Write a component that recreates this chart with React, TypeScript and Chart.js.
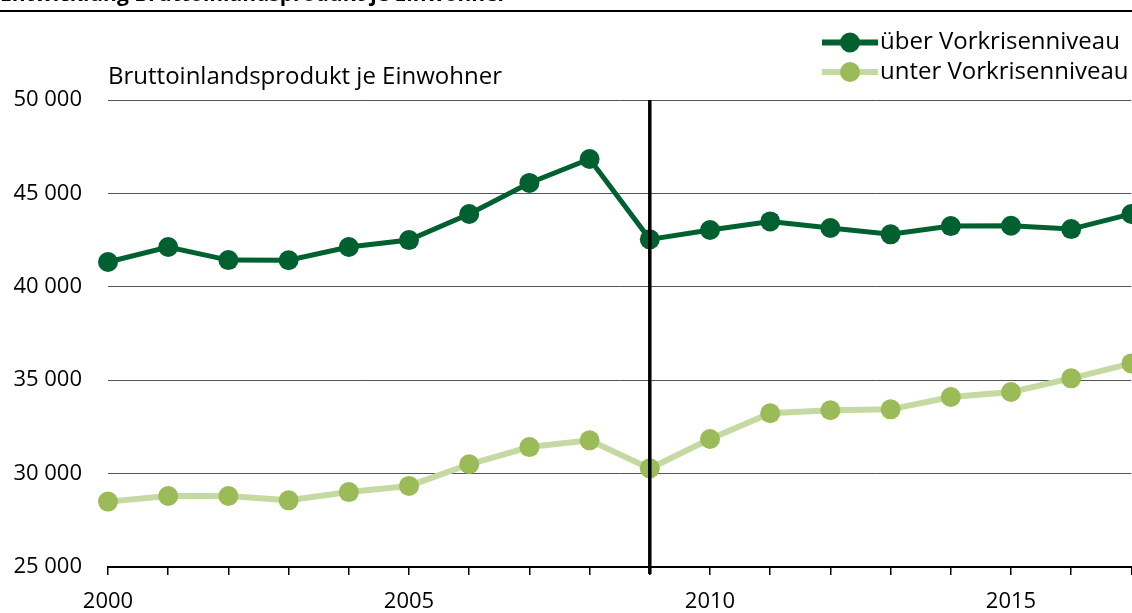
import React, { useEffect, useRef } from "react";
import { Chart, registerables } from "chart.js";

Chart.register(...registerables);

const years = [2000, 2001, 2002, 2003, 2004, 2005, 2006, 2007, 2008, 2009, 2010, 2011, 2012, 2013, 2014, 2015, 2016, 2017];
const ueberValues = [41330, 42130, 41430, 41420, 42130, 42500, 43900, 45560, 46840, 42540, 43040, 43500, 43150, 42810, 43250, 43270, 43090, 43900];
const unterValues = [28500, 28800, 28800, 28570, 29010, 29340, 30500, 31420, 31780, 30280, 31850, 33230, 33390, 33440, 34100, 34370, 35100, 35900];
const yTickValues = [25000, 30000, 35000, 40000, 45000, 50000];
const xLabelYears = [2000, 2005, 2010, 2015];
const seriesLabels = ["über Vorkrisenniveau", "unter Vorkrisenniveau"];
const axisTitle = "Bruttoinlandsprodukt je Einwohner";
const chartTitle = "Entwicklung Bruttoinlandsprodukt je Einwohner";
const crisisYear = 2009;

const DARK = "#00602F";
const LIGHT_LINE = "#C5DAA2";
const LIGHT_POINT = "#9BBB59";
const FONT = "'Open Sans'";

const fmt = (v: number) => String(v).replace(/\B(?=(\d{3})+(?!\d))/g, " ");

export default function App() {
  const ref = useRef<HTMLCanvasElement | null>(null);

  useEffect(() => {
    const canvas = ref.current;
    if (!canvas) return;

    const overlay = {
      id: "overlay",
      afterDatasetsDraw(chart: any) {
        const ctx = chart.ctx;
        const x = chart.scales.x.getPixelForValue(years.indexOf(crisisYear));
        const area = chart.chartArea;
        ctx.save();
        ctx.strokeStyle = "#000";
        ctx.lineWidth = 3.5;
        ctx.beginPath();
        ctx.moveTo(x, area.top);
        ctx.lineTo(x, area.bottom + 7);
        ctx.stroke();
        ctx.restore();
      },
      afterDraw(chart: any) {
        const ctx = chart.ctx;
        ctx.save();
        ctx.fillStyle = "#000";
        ctx.font = `bold 21px ${FONT}`;
        ctx.textBaseline = "alphabetic";
        ctx.textAlign = "left";
        ctx.fillText(chartTitle, 0, 1);
        ctx.strokeStyle = "#000";
        ctx.lineWidth = 2;
        ctx.beginPath();
        ctx.moveTo(0, 11);
        ctx.lineTo(chart.width, 11);
        ctx.stroke();

        ctx.font = `24px ${FONT}`;
        ctx.fillText(axisTitle, chart.chartArea.left, 84);

        const rows = [
          { label: seriesLabels[0], line: DARK, point: DARK, y: 42.5 },
          { label: seriesLabels[1], line: LIGHT_LINE, point: LIGHT_POINT, y: 72 },
        ];
        rows.forEach((r) => {
          ctx.strokeStyle = r.line;
          ctx.lineWidth = 6;
          ctx.beginPath();
          ctx.moveTo(822, r.y);
          ctx.lineTo(878, r.y);
          ctx.stroke();
          ctx.fillStyle = r.point;
          ctx.beginPath();
          ctx.arc(850, r.y, 10, 0, Math.PI * 2);
          ctx.fill();
          ctx.fillStyle = "#000";
          ctx.textBaseline = "middle";
          ctx.fillText(r.label, 880, r.y);
        });
        ctx.restore();
      },
    };

    const chart = new Chart(canvas, {
      type: "line",
      data: {
        labels: years.map(String),
        datasets: [
          {
            label: seriesLabels[0],
            data: ueberValues,
            borderColor: DARK,
            backgroundColor: DARK,
            pointBackgroundColor: DARK,
            pointBorderWidth: 0,
            borderWidth: 5,
            pointRadius: 10,
            tension: 0,
            clip: false,
          },
          {
            label: seriesLabels[1],
            data: unterValues,
            borderColor: LIGHT_LINE,
            backgroundColor: LIGHT_POINT,
            pointBackgroundColor: LIGHT_POINT,
            pointBorderWidth: 0,
            borderWidth: 6,
            pointRadius: 10,
            tension: 0,
            clip: false,
          },
        ],
      },
      options: {
        responsive: false,
        animation: false,
        layout: { autoPadding: false, padding: { top: 100, left: 0, right: 0.6, bottom: 0 } },
        plugins: { legend: { display: false }, tooltip: { enabled: false }, title: { display: false } },
        scales: {
          x: {
            type: "category",
            offset: false,
            afterFit: (s: any) => {
              s.height = 46;
              s.paddingLeft = 0;
              s.paddingRight = 0;
            },
            grid: {
              display: true,
              drawOnChartArea: false,
              drawTicks: true,
              tickLength: 8,
              color: "#000",
              lineWidth: 1.5,
            },
            border: { display: true, color: "#000", width: 2 },
            ticks: {
              autoSkip: false,
              maxRotation: 0,
              padding: 14,
              color: "#000",
              font: { family: FONT, size: 22 },
              callback: (_v: any, i: number) => (xLabelYears.includes(years[i]) ? String(years[i]) : ""),
            },
          },
          y: {
            min: yTickValues[0],
            max: yTickValues[yTickValues.length - 1],
            afterFit: (s: any) => {
              s.width = 108;
            },
            afterBuildTicks: (s: any) => {
              s.ticks = yTickValues.map((v) => ({ value: v }));
            },
            grid: {
              drawTicks: false,
              color: (c: any) => (c.tick && c.tick.value === yTickValues[0] ? "#000" : "#555"),
              lineWidth: 1,
            },
            border: { display: false },
            ticks: {
              padding: 26,
              color: "#000",
              font: { family: FONT, size: 22 },
              callback: (v: any) => fmt(Number(v)),
            },
          },
        },
      },
      plugins: [overlay],
    } as any);

    return () => chart.destroy();
  }, []);

  return (
    <div style={{ position: "fixed", left: 0, top: 0, width: 1132, height: 613, background: "#fff" }}>
      <canvas ref={ref} width={1132} height={613} style={{ display: "block" }} />
    </div>
  );
}
